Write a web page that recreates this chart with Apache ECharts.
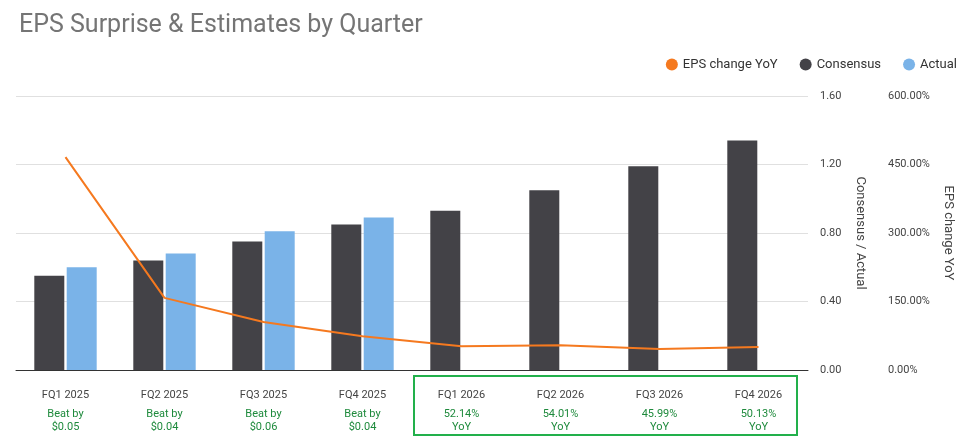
<!DOCTYPE html>
<html><head><meta charset="utf-8">
<script src="https://cdn.jsdelivr.net/npm/echarts@6/dist/echarts.min.js"></script>
<style>html,body{margin:0;background:#fff}#c{width:966px;height:441px}</style>
</head><body><div id="c"></div>
<script>
var quarters = ['FQ1 2025','FQ2 2025','FQ3 2025','FQ4 2025','FQ1 2026','FQ2 2026','FQ3 2026','FQ4 2026'];
var notes = [['Beat by','$0.05'],['Beat by','$0.04'],['Beat by','$0.06'],['Beat by','$0.04'],['52.14%','YoY'],['54.01%','YoY'],['45.99%','YoY'],['50.13%','YoY']];
var consensus = [0.55, 0.64, 0.75, 0.85, 0.93, 1.05, 1.19, 1.34];
var actual = [0.60, 0.68, 0.81, 0.89, null, null, null, null];
var yoy = [466, 158, 105, 74, 52.14, 54.01, 45.99, 50.13];

var chart = echarts.init(document.getElementById('c'));
chart.setOption({
    animation: false,
    title: {text: 'EPS Surprise & Estimates by Quarter', left: 14, top: 8,
        textStyle: {fontFamily: 'Roboto', fontSize: 25, fontWeight: 'normal', color: '#757575'}},
    legend: {right: 4, top: 53, itemWidth: 12, itemHeight: 12, itemGap: 22,
        textStyle: {fontFamily: 'Roboto', fontSize: 13, color: '#333'},
        data: [{name: 'EPS change YoY', icon: 'circle'}, {name: 'Consensus', icon: 'circle'}, {name: 'Actual', icon: 'circle'}]},
    grid: {left: 16, right: 158, top: 96, bottom: 71},
    xAxis: {type: 'category', data: quarters,
        axisLine: {lineStyle: {color: '#333'}}, axisTick: {show: false},
        axisLabel: {interval: 0, margin: 12, fontFamily: 'Roboto',
            formatter: function (v, i) {
                return '{a|' + v + '}\n{g|' + notes[i][0] + '}\n{g|' + notes[i][1] + '}';
            },
            rich: {a: {fontSize: 11, color: '#444', lineHeight: 26},
                   g: {fontSize: 11, color: '#1e8a3c', lineHeight: 13}}}},
    yAxis: [
        {type: 'value', position: 'right', min: 0, max: 1.6, interval: 0.4,
         name: 'Consensus / Actual', nameLocation: 'middle', nameRotate: -90, nameGap: 46,
         nameTextStyle: {fontFamily: 'Roboto', fontSize: 13, color: '#444'},
         axisLabel: {margin: 12, fontFamily: 'Roboto', fontSize: 11, color: '#444', formatter: function (v) { return v.toFixed(2); }},
         splitLine: {lineStyle: {color: '#e0e0e0'}}},
        {type: 'value', position: 'right', offset: 72, min: 0, max: 600, interval: 150,
         name: 'EPS change YoY', nameLocation: 'middle', nameRotate: -90, nameGap: 62,
         nameTextStyle: {fontFamily: 'Roboto', fontSize: 13, color: '#444'},
         axisLabel: {margin: 8, fontFamily: 'Roboto', fontSize: 11, color: '#444', formatter: function (v) { return v.toFixed(2) + '%'; }},
         splitLine: {show: false}}
    ],
    graphic: [{type: 'rect', shape: {x: 414, y: 376, width: 383, height: 59},
        style: {fill: 'none', stroke: '#22b04b', lineWidth: 2}}],
    series: [
        {name: 'Consensus', type: 'bar', data: consensus, barWidth: 30, barGap: '8%', itemStyle: {color: '#434247'}},
        {name: 'Actual', type: 'bar', data: actual, barWidth: 30, itemStyle: {color: '#7ab3e8'}},
        {name: 'EPS change YoY', type: 'line', yAxisIndex: 1, data: yoy, showSymbol: false,
         lineStyle: {color: '#f5791f', width: 2}, itemStyle: {color: '#f5791f'}}
    ]
});
</script></body></html>
